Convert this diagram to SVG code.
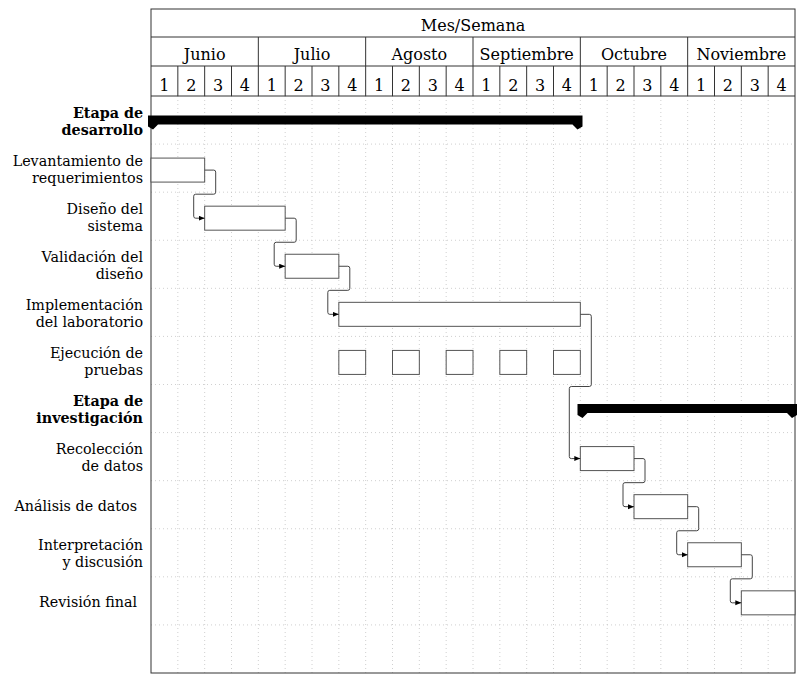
<svg xmlns="http://www.w3.org/2000/svg" width="803" height="685" viewBox="0 0 803 685">
<defs>
<style>
.t{font-family:"DejaVu Serif","Liberation Serif",serif;fill:#000}
.h{font-size:16px;text-anchor:middle}
.l{font-size:14.3px;text-anchor:end}
.b{font-weight:bold}
.grid line{stroke:#c4c4c4;stroke-width:0.8;stroke-dasharray:1 3}
.frame{fill:none;stroke:#333;stroke-width:1}
.hl{stroke:#333;stroke-width:1}
.task{fill:#fff;stroke:#555;stroke-width:1}
.grp{fill:#000;stroke:none}
.conn path{fill:none;stroke:#444;stroke-width:1;marker-end:url(#arr)}
</style>
<marker id="arr" markerUnits="userSpaceOnUse" markerWidth="7" markerHeight="6" refX="6" refY="2.5" orient="auto">
<path d="M0,0 L6,2.5 L0,5 Z" fill="#000"/>
</marker>
</defs>
<rect width="803" height="685" fill="#fff"/>

<g class="grid" id="grid">
<line x1="177.83" y1="96" x2="177.83" y2="673"/>
<line x1="204.67" y1="96" x2="204.67" y2="673"/>
<line x1="231.5" y1="96" x2="231.5" y2="673"/>
<line x1="258.33" y1="96" x2="258.33" y2="673"/>
<line x1="285.17" y1="96" x2="285.17" y2="673"/>
<line x1="312" y1="96" x2="312" y2="673"/>
<line x1="338.83" y1="96" x2="338.83" y2="673"/>
<line x1="365.67" y1="96" x2="365.67" y2="673"/>
<line x1="392.5" y1="96" x2="392.5" y2="673"/>
<line x1="419.33" y1="96" x2="419.33" y2="673"/>
<line x1="446.17" y1="96" x2="446.17" y2="673"/>
<line x1="473" y1="96" x2="473" y2="673"/>
<line x1="499.83" y1="96" x2="499.83" y2="673"/>
<line x1="526.67" y1="96" x2="526.67" y2="673"/>
<line x1="553.5" y1="96" x2="553.5" y2="673"/>
<line x1="580.33" y1="96" x2="580.33" y2="673"/>
<line x1="607.17" y1="96" x2="607.17" y2="673"/>
<line x1="634" y1="96" x2="634" y2="673"/>
<line x1="660.83" y1="96" x2="660.83" y2="673"/>
<line x1="687.67" y1="96" x2="687.67" y2="673"/>
<line x1="714.5" y1="96" x2="714.5" y2="673"/>
<line x1="741.33" y1="96" x2="741.33" y2="673"/>
<line x1="768.17" y1="96" x2="768.17" y2="673"/>
<line x1="151" y1="144.08" x2="795" y2="144.08"/>
<line x1="151" y1="192.17" x2="795" y2="192.17"/>
<line x1="151" y1="240.25" x2="795" y2="240.25"/>
<line x1="151" y1="288.33" x2="795" y2="288.33"/>
<line x1="151" y1="336.42" x2="795" y2="336.42"/>
<line x1="151" y1="384.5" x2="795" y2="384.5"/>
<line x1="151" y1="432.58" x2="795" y2="432.58"/>
<line x1="151" y1="480.67" x2="795" y2="480.67"/>
<line x1="151" y1="528.75" x2="795" y2="528.75"/>
<line x1="151" y1="576.83" x2="795" y2="576.83"/>
<line x1="151" y1="624.92" x2="795" y2="624.92"/>
</g>

<g id="header">
<rect class="frame" x="151" y="9" width="644" height="664"/>
<line class="hl" x1="151" y1="37" x2="795" y2="37"/>
<line class="hl" x1="151" y1="66" x2="795" y2="66"/>
<line class="hl" x1="151" y1="96" x2="795" y2="96"/>
<line class="hl" x1="258.33" y1="37" x2="258.33" y2="96"/>
<line class="hl" x1="365.67" y1="37" x2="365.67" y2="96"/>
<line class="hl" x1="473" y1="37" x2="473" y2="96"/>
<line class="hl" x1="580.33" y1="37" x2="580.33" y2="96"/>
<line class="hl" x1="687.67" y1="37" x2="687.67" y2="96"/>
<line class="hl" x1="177.83" y1="66" x2="177.83" y2="96"/>
<line class="hl" x1="204.67" y1="66" x2="204.67" y2="96"/>
<line class="hl" x1="231.5" y1="66" x2="231.5" y2="96"/>
<line class="hl" x1="285.17" y1="66" x2="285.17" y2="96"/>
<line class="hl" x1="312" y1="66" x2="312" y2="96"/>
<line class="hl" x1="338.83" y1="66" x2="338.83" y2="96"/>
<line class="hl" x1="392.5" y1="66" x2="392.5" y2="96"/>
<line class="hl" x1="419.33" y1="66" x2="419.33" y2="96"/>
<line class="hl" x1="446.17" y1="66" x2="446.17" y2="96"/>
<line class="hl" x1="499.83" y1="66" x2="499.83" y2="96"/>
<line class="hl" x1="526.67" y1="66" x2="526.67" y2="96"/>
<line class="hl" x1="553.5" y1="66" x2="553.5" y2="96"/>
<line class="hl" x1="607.17" y1="66" x2="607.17" y2="96"/>
<line class="hl" x1="634" y1="66" x2="634" y2="96"/>
<line class="hl" x1="660.83" y1="66" x2="660.83" y2="96"/>
<line class="hl" x1="714.5" y1="66" x2="714.5" y2="96"/>
<line class="hl" x1="741.33" y1="66" x2="741.33" y2="96"/>
<line class="hl" x1="768.17" y1="66" x2="768.17" y2="96"/>
<text class="t h" x="473" y="31">Mes/Semana</text>
<text class="t h" x="204.67" y="59.5">Junio</text>
<text class="t h" x="312" y="59.5">Julio</text>
<text class="t h" x="419.33" y="59.5">Agosto</text>
<text class="t h" x="526.67" y="59.5">Septiembre</text>
<text class="t h" x="634" y="59.5">Octubre</text>
<text class="t h" x="741.33" y="59.5">Noviembre</text>
<text class="t h" x="164.4" y="91">1</text>
<text class="t h" x="191.3" y="91">2</text>
<text class="t h" x="218.1" y="91">3</text>
<text class="t h" x="244.9" y="91">4</text>
<text class="t h" x="271.75" y="91">1</text>
<text class="t h" x="298.6" y="91">2</text>
<text class="t h" x="325.4" y="91">3</text>
<text class="t h" x="352.25" y="91">4</text>
<text class="t h" x="379.1" y="91">1</text>
<text class="t h" x="405.9" y="91">2</text>
<text class="t h" x="432.75" y="91">3</text>
<text class="t h" x="459.6" y="91">4</text>
<text class="t h" x="486.4" y="91">1</text>
<text class="t h" x="513.25" y="91">2</text>
<text class="t h" x="540.1" y="91">3</text>
<text class="t h" x="566.9" y="91">4</text>
<text class="t h" x="593.75" y="91">1</text>
<text class="t h" x="620.6" y="91">2</text>
<text class="t h" x="647.4" y="91">3</text>
<text class="t h" x="674.25" y="91">4</text>
<text class="t h" x="701.1" y="91">1</text>
<text class="t h" x="727.9" y="91">2</text>
<text class="t h" x="754.75" y="91">3</text>
<text class="t h" x="781.6" y="91">4</text>
</g>

<g id="etapa-desarrollo">
<text class="t l b" x="143" y="117.5">Etapa de</text>
<text class="t l b" x="143" y="134.5">desarrollo</text>
<path class="grp" d="M148,115.5 H582.5 V126.5 L577.5,129.5 L572.5,124.5 H158 L153,129.5 L148,126.5 Z"/>
</g>
<g id="levantamiento">
<text class="t l" x="143" y="165.6">Levantamiento de</text>
<text class="t l" x="143" y="182.6">requerimientos</text>
<rect class="task" x="151" y="158.08" width="53.67" height="24"/>
</g>
<g id="diseno">
<text class="t l" x="143" y="213.7">Diseño del</text>
<text class="t l" x="143" y="230.7">sistema</text>
<rect class="task" x="204.67" y="206.17" width="80.5" height="24"/>
</g>
<g id="validacion">
<text class="t l" x="143" y="261.8">Validación del</text>
<text class="t l" x="143" y="278.8">diseño</text>
<rect class="task" x="285.17" y="254.25" width="53.67" height="24"/>
</g>
<g id="implementacion">
<text class="t l" x="143" y="309.9">Implementación</text>
<text class="t l" x="143" y="326.9">del laboratorio</text>
<rect class="task" x="338.83" y="302.33" width="241.5" height="24"/>
</g>
<g id="ejecucion">
<text class="t l" x="143" y="358">Ejecución de</text>
<text class="t l" x="143" y="375">pruebas</text>
<rect class="task" x="338.83" y="350.42" width="26.83" height="24"/>
<rect class="task" x="392.5" y="350.42" width="26.83" height="24"/>
<rect class="task" x="446.17" y="350.42" width="26.83" height="24"/>
<rect class="task" x="499.83" y="350.42" width="26.83" height="24"/>
<rect class="task" x="553.5" y="350.42" width="26.83" height="24"/>
</g>
<g id="etapa-investigacion">
<text class="t l b" x="143" y="406">Etapa de</text>
<text class="t l b" x="143" y="423">investigación</text>
<path class="grp" d="M577.5,404 H797 V415 L792,418 L787,413 H587.5 L582.5,418 L577.5,415 Z"/>
</g>
<g id="recoleccion">
<text class="t l" x="143" y="454.2">Recolección</text>
<text class="t l" x="143" y="471.2">de datos</text>
<rect class="task" x="580.33" y="446.58" width="53.67" height="24"/>
</g>
<g id="analisis">
<text class="t l" x="137" y="510.7">Análisis de datos</text>
<rect class="task" x="634" y="494.67" width="53.67" height="24"/>
</g>
<g id="interpretacion">
<text class="t l" x="143" y="550.3">Interpretación</text>
<text class="t l" x="143" y="567.3">y discusión</text>
<rect class="task" x="687.67" y="542.75" width="53.67" height="24"/>
</g>
<g id="revision">
<text class="t l" x="137" y="606.9">Revisión final</text>
<rect class="task" x="741.33" y="590.83" width="53.67" height="24"/>
</g>

<g class="conn" id="connectors">
<path d="M204.7,170.1 H213.7 Q215.7,170.1 215.7,172.1 V192.2 Q215.7,194.2 213.7,194.2 H195.7 Q193.7,194.2 193.7,196.2 V216.2 Q193.7,218.2 195.7,218.2 H204.7"/>
<path d="M285.2,218.2 H294.2 Q296.2,218.2 296.2,220.2 V240.25 Q296.2,242.25 294.2,242.25 H276.2 Q274.2,242.25 274.2,244.25 V264.25 Q274.2,266.25 276.2,266.25 H285.2"/>
<path d="M338.8,266.25 H347.8 Q349.8,266.25 349.8,268.25 V288.33 Q349.8,290.33 347.8,290.33 H329.8 Q327.8,290.33 327.8,292.33 V312.33 Q327.8,314.33 329.8,314.33 H338.8"/>
<path d="M580.3,314.33 H589.3 Q591.3,314.33 591.3,316.33 V384.5 Q591.3,386.5 589.3,386.5 H571.3 Q569.3,386.5 569.3,388.5 V456.58 Q569.3,458.58 571.3,458.58 H580.3"/>
<path d="M634,458.58 H643 Q645,458.58 645,460.58 V480.67 Q645,482.67 643,482.67 H625 Q623,482.67 623,484.67 V504.67 Q623,506.67 625,506.67 H634"/>
<path d="M687.7,506.67 H696.7 Q698.7,506.67 698.7,508.67 V528.75 Q698.7,530.75 696.7,530.75 H678.7 Q676.7,530.75 676.7,532.75 V552.75 Q676.7,554.75 678.7,554.75 H687.7"/>
<path d="M741.3,554.75 H750.3 Q752.3,554.75 752.3,556.75 V576.83 Q752.3,578.83 750.3,578.83 H732.3 Q730.3,578.83 730.3,580.83 V600.83 Q730.3,602.83 732.3,602.83 H741.3"/>
</g>
</svg>
